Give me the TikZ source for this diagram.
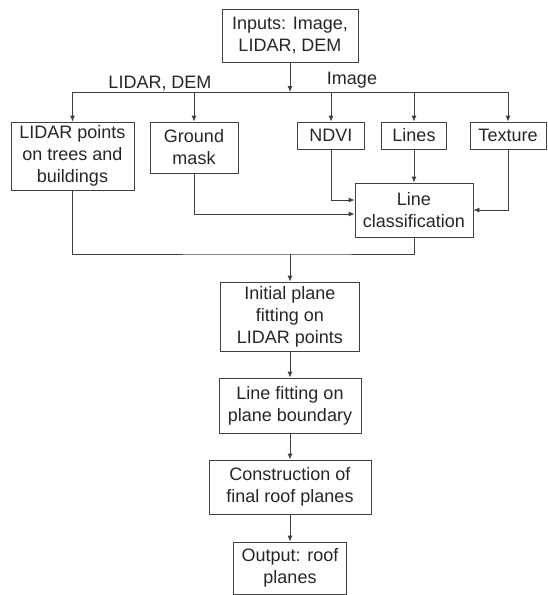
\documentclass[tikz,border=0pt]{standalone}
\usepackage{fontspec}
\setmainfont{Liberation Sans}
\usetikzlibrary{arrows.meta}

\begin{document}
\begin{tikzpicture}[x=1pt, y=-1pt,
  box/.style={draw=black!75, line width=0.8pt, align=center, inner sep=2pt,
    font=\fontsize{18}{22}\selectfont, text=black!85},
  lbl/.style={font=\fontsize{18}{22}\selectfont, text=black!85},
  conn/.style={draw=black!75, line width=0.8pt},
  arr/.style={conn, -{Latex[length=6pt,width=5pt]}}]
\useasboundingbox (0,0) rectangle (547,595);

% Input
\node[box, minimum width=136pt, minimum height=53pt] (inputs) at (290,35.5) {Inputs: Image,\\LIDAR, DEM};
\coordinate (bus) at (290,92);
\node[lbl] (srclidar) at (160,83) {LIDAR, DEM};
\node[lbl] (srcimage) at (352,80) {Image};

% First row
\node[box, minimum width=123pt, minimum height=68pt] (lidarpts) at (72.5,156) {LIDAR points\\on trees and\\buildings};
\node[box, minimum width=88pt, minimum height=51pt] (ground) at (194,147.5) {Ground\\mask};
\node[box, minimum width=67pt, minimum height=27pt] (ndvi) at (331,135.5) {NDVI};
\node[box, minimum width=65pt, minimum height=27pt] (lines) at (414,135.5) {Lines};
\node[box, minimum width=76pt, minimum height=27pt] (texture) at (508,135.5) {Texture};

% Line classification
\node[box, minimum width=118pt, minimum height=54pt] (lineclass) at (414,210) {Line\\classification};

% Main chain
\coordinate (merge) at (290,254);
\node[box, minimum width=139pt, minimum height=69pt] (initial) at (290,316.5) {Initial plane\\fitting on\\LIDAR points};
\node[box, minimum width=142pt, minimum height=55pt] (linefit) at (290,405.5) {Line fitting on\\plane boundary};
\node[box, minimum width=162pt, minimum height=54pt] (construct) at (290,487) {Construction of\\final roof planes};
\node[box, minimum width=113pt, minimum height=52pt] (output) at (290,568) {Output: roof\\planes};

% Distribution of inputs
\draw[arr] (inputs) -- (bus);
\draw[conn] (lidarpts.north |- bus) -- (texture.north |- bus);
\foreach \n in {lidarpts,ground,ndvi,lines,texture}
  \draw[arr] (\n.north |- bus) -- (\n.north);

% Into line classification
\draw[arr] (lines) -- (lineclass);
\draw[arr] (ndvi.south) |- ([yshift=10pt]lineclass.west);
\draw[arr] (ground.south) |- ([yshift=-4pt]lineclass.west);
\draw[arr] (texture.south) |- (lineclass.east);

% Merge and chain
\draw[conn] (lidarpts.south) |- (merge) -| (lineclass.south);
\draw[arr] (merge) -- (initial);
\draw[arr] (initial) -- (linefit);
\draw[arr] (linefit) -- (construct);
\draw[arr] (construct) -- (output);
\end{tikzpicture}
\end{document}
